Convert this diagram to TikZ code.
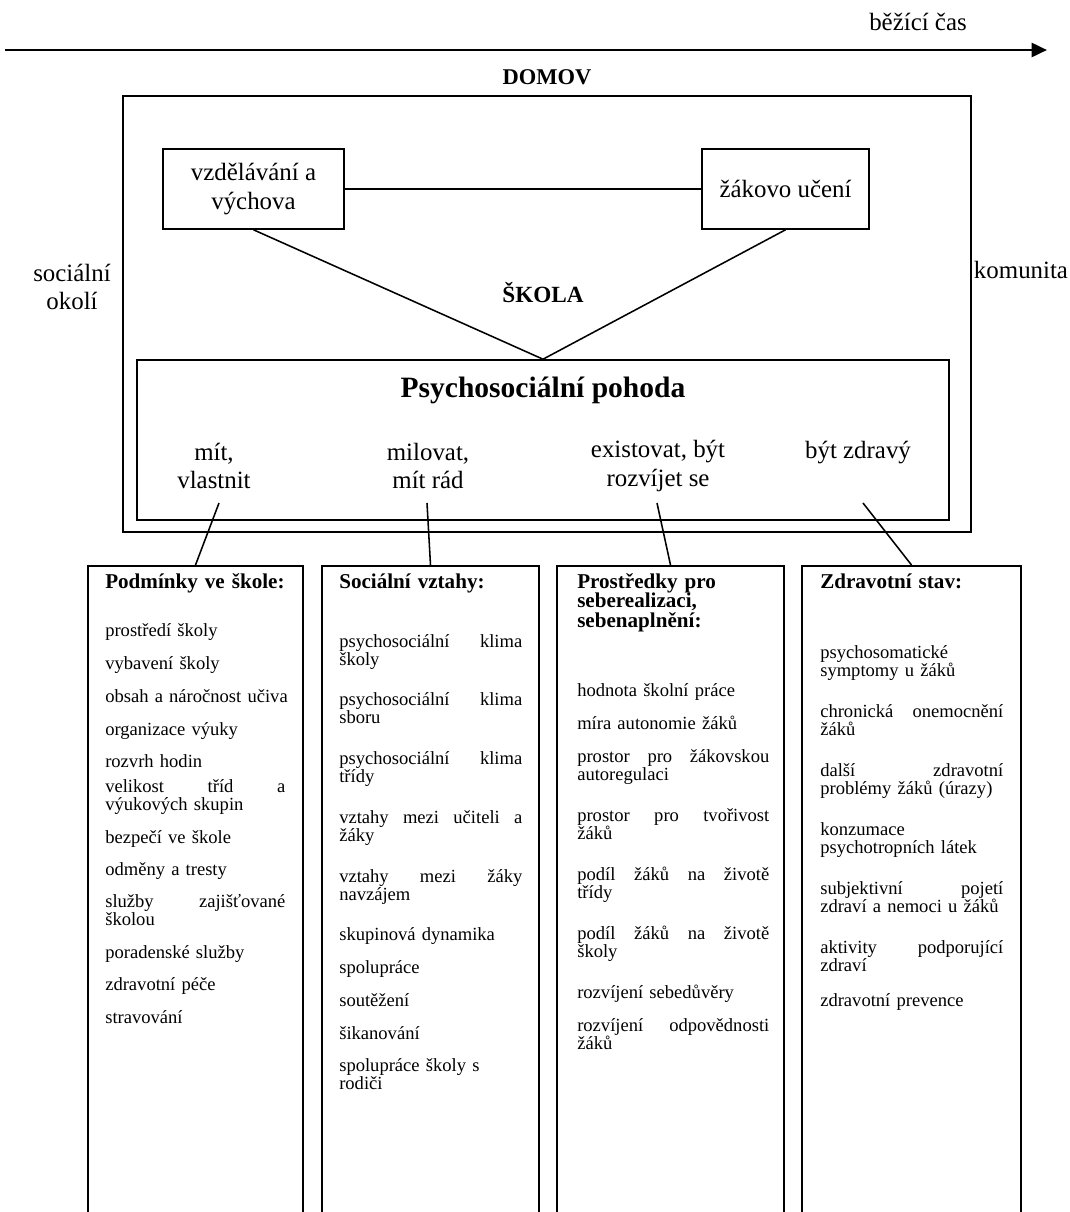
\documentclass[tikz,border=0pt]{standalone}
\usepackage{fontspec}
\setmainfont{Liberation Serif}
\usetikzlibrary{arrows.meta,positioning}

\begin{document}
\begin{tikzpicture}[x=0.025cm, y=-0.025cm,
	box/.style={draw, line width=1.1pt, inner sep=0pt},
	link/.style={line width=1.1pt},
	lbl/.style={font=\fontsize{17.7}{20}\selectfont, align=center, inner sep=0pt},
	bold/.style={font=\fontsize{16.5}{19}\selectfont\bfseries, inner sep=0pt},
	item/.style={anchor=base west, inner sep=0pt, align=left, font=\fontsize{13.2}{13.2}\selectfont},
	head/.style={item, font=\fontsize{15}{14.2}\selectfont\bfseries}]
	\useasboundingbox (0,0) rectangle (1070,1212);
	\clip (0,0) rectangle (1070,1212);

	% time axis
	\coordinate (t0) at (5,50);
	\coordinate (t1) at (1047,50);
	\draw[line width=2pt, -{Triangle[length=11pt,width=10pt]}] (t0) -- (t1);
	\node[lbl] (cas) at (918,22) {běžící čas};

	\node[box, minimum width=21.2cm, minimum height=10.9cm] (domov) at (547,314) {};
	\node[bold, font=\fontsize{16}{19}\selectfont\bfseries, above=0.25cm of domov] (domovlbl) {DOMOV};
	\node[lbl] (okoli) at (72,287) {sociální\\okolí};
	\node[lbl] (komunita) at (1021,270) {komunita};

	\node[box, lbl, minimum width=4.525cm, minimum height=2cm] (vzdel) at (253.5,189) {vzdělávání a\\výchova};
	\node[box, lbl, minimum width=4.175cm, minimum height=2cm] (uceni) at (785.5,189) {žákovo učení};
	\node[bold] (skola) at (543,293) {ŠKOLA};

	\node[box, minimum width=20.3cm, minimum height=4cm] (pohoda) at (543,440) {};
	\node[font=\fontsize{21}{24}\selectfont\bfseries, inner sep=0pt] (pohodalbl) at (543,390) {Psychosociální pohoda};
	\node[lbl] (mit) at (214,466) {mít,\\vlastnit};
	\node[lbl] (milovat) at (428,466) {milovat,\\mít rád};
	\node[lbl] (existovat) at (658,466) {existovat, být\\rozvíjet se};
	\node[lbl] (zdravy) at (858,453) {být zdravý};

	\draw[link] (vzdel) -- (uceni);
	\draw[link] (vzdel.south) -- (pohoda.north) -- (uceni.south);

	% bottom columns
	\node[box, anchor=north, minimum width=5.375cm, minimum height=17cm] (podm) at (195.5,565) {};
	\node[box, anchor=north, minimum width=5.425cm, minimum height=17cm] (vztahy) at (430.5,565) {};
	\node[box, anchor=north, minimum width=5.675cm, minimum height=17cm] (prostr) at (670.5,565) {};
	\node[box, anchor=north, minimum width=5.475cm, minimum height=17cm] (stav) at (911.5,565) {};

	\coordinate (mit-c) at (219,503);
	\coordinate (milovat-c) at (427,503);
	\coordinate (existovat-c) at (657,503);
	\coordinate (zdravy-c) at (863,503);
	\draw[link] (mit-c) -- (podm.north);
	\draw[link] (milovat-c) -- (vztahy.north);
	\draw[link] (existovat-c) -- (prostr.north);
	\draw[link] (zdravy-c) -- (stav.north);

	\node[head, text width=4.5cm] (podm-h) at (105,588) {Podmínky ve škole:};
	\foreach \y/\txt [count=\i] in {636/prostředí školy, 669/vybavení školy, 702/\mbox{obsah a náročnost učiva},
			735/organizace výuky, 767/rozvrh hodin, 792/velikost \hfill tříd \hfill a\\výukových skupin,
			843/bezpečí ve škole, 875/odměny a tresty, 907/služby \hfill zajišťované\\školou,
			958/poradenské služby, 990/zdravotní péče, 1023/stravování}
		\node[item, text width=4.5cm] (podm-\i) at (105,\y) {\txt};

	\node[head, text width=4.575cm] (vztahy-h) at (339,588) {Sociální vztahy:};
	\foreach \y/\txt [count=\i] in {647/psychosociální \hfill klima\\školy, 705/psychosociální \hfill klima\\sboru,
			764/psychosociální \hfill klima\\třídy, 823/vztahy \hfill mezi \hfill učiteli \hfill a\\žáky,
			882/vztahy \hfill mezi \hfill žáky\\navzájem, 940/skupinová dynamika, 973/spolupráce,
			1006/soutěžení, 1039/šikanování, 1071/spolupráce školy s\\rodiči}
		\node[item, text width=4.575cm] (vztahy-\i) at (339,\y) {\txt};

	\node[head, text width=4.8cm] (prostr-h) at (577,588) {Prostředky pro\\seberealizaci,\\sebenaplnění:};
	\foreach \y/\txt [count=\i] in {696/hodnota školní práce, 729/míra autonomie žáků,
			762/prostor \hfill pro \hfill žákovskou\\autoregulaci, 821/prostor \hfill pro \hfill tvořivost\\žáků,
			880/podíl \hfill žáků \hfill na \hfill životě\\třídy, 939/podíl \hfill žáků \hfill na \hfill životě\\školy,
			998/rozvíjení sebedůvěry, 1031/rozvíjení \hfill odpovědnosti\\žáků}
		\node[item, text width=4.8cm] (prostr-\i) at (577,\y) {\txt};

	\node[head, text width=4.575cm] (stav-h) at (820,588) {Zdravotní stav:};
	\foreach \y/\txt [count=\i] in {658/psychosomatické\\symptomy u žáků, 717/chronická \hfill onemocnění\\žáků,
			776/další \hfill zdravotní\\problémy žáků (úrazy), 835/konzumace\\psychotropních látek,
			894/subjektivní \hfill pojetí\\zdraví a nemoci u žáků, 953/aktivity \hfill podporující\\zdraví,
			1006/zdravotní prevence}
		\node[item, text width=4.575cm] (stav-\i) at (820,\y) {\txt};
\end{tikzpicture}
\end{document}
